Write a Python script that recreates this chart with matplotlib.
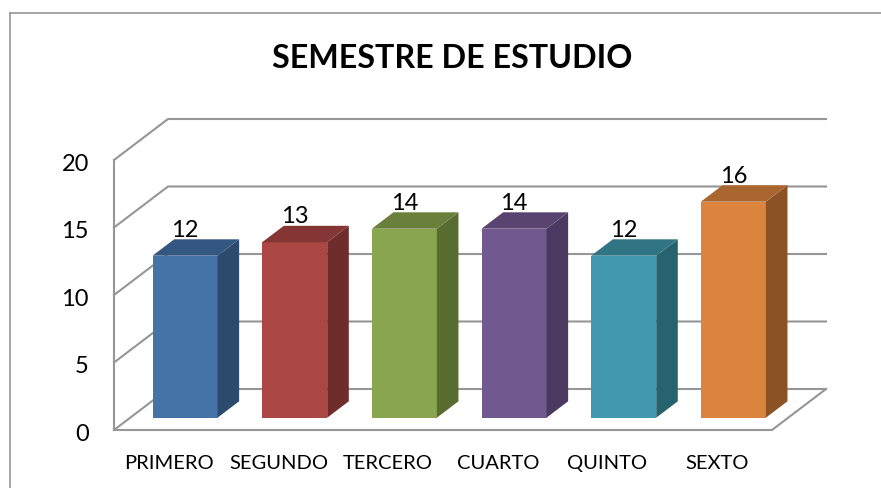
"""SEMESTRE DE ESTUDIO: 3D-look column chart drawn with an oblique projection."""

import matplotlib

matplotlib.use("Agg")
import matplotlib.pyplot as plt
from matplotlib.patches import Polygon, Rectangle

categories = ["PRIMERO", "SEGUNDO", "TERCERO", "CUARTO", "QUINTO", "SEXTO"]
values = [12, 13, 14, 14, 12, 16]
y_ticks = [0, 5, 10, 15, 20]
front_colors = ["#4572A7", "#AA4643", "#89A54E", "#71588F", "#4198AF", "#DB843D"]
side_colors = ["#2C4A6E", "#6E2C2A", "#586B30", "#4A3960", "#27636F", "#8A5225"]
top_colors = ["#345782", "#843534", "#6B7F3C", "#594470", "#317585", "#A9662F"]

W, H = 881, 488
GRID = "#969696"

# oblique depth of the plot box, in data units
DEPTH_X = 54 / (658 / 6)
DEPTH_Y = 41 / (270 / 20)
BAR_W = 65 / (658 / 6)
BAR_D0, BAR_D1 = 0.3, 0.7


def proj(x, y, d):
    return (x + d * DEPTH_X, y + d * DEPTH_Y)


fig = plt.figure(figsize=(W / 100, H / 100), dpi=100)
plt.rcParams["font.family"] = ["Lato", "DejaVu Sans"]

# chart frame, open at the bottom and right like the cropped original
fig.add_artist(plt.Line2D([9.5 / W, 9.5 / W], [0, 1 - 12.5 / H], color=GRID, lw=1.2))
fig.add_artist(plt.Line2D([9.5 / W, 1], [1 - 12.5 / H, 1 - 12.5 / H], color=GRID, lw=1.2))

ax = fig.add_axes([114 / W, 1 - 430 / H, 658 / W, 270 / H])
ax.set_xlim(0, len(categories))
ax.set_ylim(0, 20)
ax.axis("off")

n = len(categories)
for t in y_ticks:
    xs, ys = zip(proj(0, t, 0), proj(0, t, 1), proj(n, t, 1))
    ax.plot(xs, ys, color=GRID, lw=1.5, clip_on=False, zorder=1)
    ax.text(-0.23, t - 0.3, str(t), ha="right", va="center", fontsize=17, color="black")
ax.plot([0, 0], [0, 20], color=GRID, lw=1.5, clip_on=False, zorder=1)
xs, ys = zip(proj(0, 0, 0), proj(n, 0, 0), proj(n, 0, 1))
ax.plot(xs, ys, color=GRID, lw=1.5, clip_on=False, zorder=1)

for i, (cat, v) in enumerate(zip(categories, values)):
    cx = i + 0.5
    x0 = cx - BAR_W / 2
    x1 = cx + BAR_W / 2
    # front face
    fx0, fy0 = proj(x0, 0, BAR_D0)
    fx1, fy1 = proj(x1, v, BAR_D0)
    ax.add_patch(Rectangle((fx0, fy0), fx1 - fx0, fy1 - fy0, facecolor=front_colors[i],
                           edgecolor="none", clip_on=False, zorder=3))
    # side face
    side = [proj(x1, 0, BAR_D0), proj(x1, 0, BAR_D1), proj(x1, v, BAR_D1), proj(x1, v, BAR_D0)]
    ax.add_patch(Polygon(side, closed=True, facecolor=side_colors[i], edgecolor="none",
                         clip_on=False, zorder=3))
    # top face
    top = [proj(x0, v, BAR_D0), proj(x1, v, BAR_D0), proj(x1, v, BAR_D1), proj(x0, v, BAR_D1)]
    ax.add_patch(Polygon(top, closed=True, facecolor=top_colors[i], edgecolor="none",
                         clip_on=False, zorder=3))
    # value label sits just above the back edge of the bar top, centred on the front face
    lx, _ = proj(cx, v, BAR_D0)
    _, ly = proj(cx, v, BAR_D1)
    ax.text(lx, ly + 0.2, str(v), ha="center", va="baseline", fontsize=17,
            color="black", zorder=4)
    ax.text(cx, -2.45, cat, ha="center", va="center", fontsize=14.5, color="black")

fig.text(452.5 / W, 1 - 58 / H, "SEMESTRE DE ESTUDIO", ha="center", va="center",
         fontsize=23.2, fontweight="bold", color="black")

fig.savefig("out.png", dpi=100)
plt.close(fig)
